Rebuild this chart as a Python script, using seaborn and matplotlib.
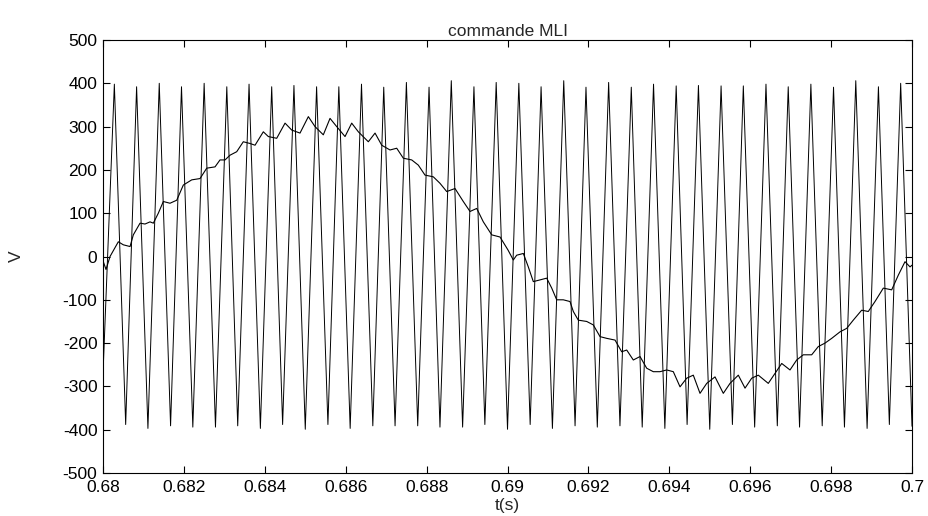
import numpy as np
import pandas as pd
import matplotlib
matplotlib.use("Agg")
import matplotlib.pyplot as plt
import seaborn as sns

# ── Data ───────────────────────────────────────────────────────────────────────
# triangular carrier: start sample, peaks and troughs
carrier_start_t = [0.68000]
carrier_start_v = [-270]
peak_t = [0.68028, 0.68083, 0.68139, 0.68194, 0.68250, 0.68306, 0.68361, 0.68417,
          0.68472, 0.68528, 0.68583, 0.68639, 0.68694, 0.68750, 0.68806, 0.68861,
          0.68917, 0.68972, 0.69028, 0.69083, 0.69139, 0.69194, 0.69250, 0.69306,
          0.69361, 0.69417, 0.69472, 0.69528, 0.69583, 0.69639, 0.69694, 0.69750,
          0.69806, 0.69861, 0.69917, 0.69972]
peak_v = [398, 392, 400, 392, 400, 392, 398, 392, 395, 392, 392, 398,
          391, 402, 391, 406, 392, 402, 400, 392, 406, 391, 402, 391,
          398, 394, 395, 394, 394, 398, 392, 398, 391, 406, 392, 400]
trough_t = [0.68056, 0.68111, 0.68167, 0.68222, 0.68278, 0.68333, 0.68389, 0.68444,
            0.68500, 0.68556, 0.68611, 0.68667, 0.68722, 0.68778, 0.68833, 0.68889,
            0.68944, 0.69000, 0.69056, 0.69111, 0.69167, 0.69222, 0.69278, 0.69333,
            0.69389, 0.69444, 0.69500, 0.69556, 0.69611, 0.69667, 0.69722, 0.69778,
            0.69833, 0.69889, 0.69944, 0.70000]
trough_v = [-388, -397, -391, -394, -394, -391, -397, -388, -399, -388, -397, -391,
            -391, -391, -394, -394, -388, -399, -388, -397, -391, -394, -391, -394,
            -397, -388, -399, -388, -394, -391, -394, -391, -394, -397, -388, -392]

# modulating (reference) signal
mli_t = [0.680000, 0.680074, 0.680173, 0.680378, 0.680502, 0.680668, 0.680749, 0.680915,
         0.681038, 0.681162, 0.681244, 0.681367, 0.681491, 0.681656, 0.681822, 0.681985,
         0.682193, 0.682398, 0.682564, 0.682769, 0.682892, 0.683016, 0.683140, 0.683305,
         0.683468, 0.683634, 0.683758, 0.683963, 0.684087, 0.684294, 0.684500, 0.684665,
         0.684870, 0.685076, 0.685241, 0.685446, 0.685612, 0.685777, 0.685983, 0.686148,
         0.686312, 0.686559, 0.686725, 0.686890, 0.687095, 0.687261, 0.687424, 0.687632,
         0.687795, 0.687960, 0.688166, 0.688331, 0.688497, 0.688702, 0.688907, 0.689073,
         0.689239, 0.689402, 0.689610, 0.689815, 0.690012, 0.690143, 0.690227, 0.690391,
         0.690514, 0.690638, 0.690804, 0.690969, 0.691093, 0.691216, 0.691379, 0.691545,
         0.691627, 0.691750, 0.691958, 0.692121, 0.692287, 0.692452, 0.692658, 0.692823,
         0.692947, 0.693110, 0.693276, 0.693441, 0.693604, 0.693770, 0.693936, 0.694099,
         0.694265, 0.694430, 0.694593, 0.694759, 0.694925, 0.695130, 0.695335, 0.695501,
         0.695706, 0.695872, 0.696037, 0.696200, 0.696447, 0.696613, 0.696779, 0.696984,
         0.697149, 0.697313, 0.697520, 0.697683, 0.697849, 0.698015, 0.698220, 0.698385,
         0.698548, 0.698756, 0.698919, 0.699085, 0.699291, 0.699498, 0.699662, 0.699827,
         0.699951, 0.700000]
mli_v = [-10, -30, 0, 34, 27, 23, 50, 77,
         75, 80, 77, 100, 127, 123, 130, 165,
         177, 180, 204, 207, 223, 223, 234, 242,
         265, 261, 257, 288, 277, 273, 308, 292,
         285, 323, 300, 281, 319, 300, 277, 308,
         288, 265, 285, 257, 246, 250, 227, 223,
         211, 188, 184, 169, 150, 157, 127, 104,
         111, 80, 50, 45, 15, -8, 3, 7,
         -24, -58, -54, -50, -73, -100, -100, -104,
         -127, -147, -150, -158, -185, -189, -193, -220,
         -216, -239, -231, -258, -266, -266, -262, -266,
         -301, -281, -274, -316, -293, -278, -316, -293,
         -274, -304, -281, -274, -293, -270, -247, -262,
         -239, -227, -227, -208, -200, -189, -174, -166,
         -147, -124, -127, -104, -73, -77, -43, -12,
         -24, -20]

x_ticks = [0.68, 0.682, 0.684, 0.686, 0.688, 0.69, 0.692, 0.694, 0.696, 0.698, 0.7]
x_tick_labels = ["0.68", "0.682", "0.684", "0.686", "0.688", "0.69",
                 "0.692", "0.694", "0.696", "0.698", "0.7"]
y_ticks = [-500, -400, -300, -200, -100, 0, 100, 200, 300, 400, 500]

# ── Style ──────────────────────────────────────────────────────────────────────
sns.set_style("ticks")
plt.rcParams["font.family"] = ["Liberation Sans", "DejaVu Sans"]
plt.rcParams["axes.unicode_minus"] = False
FS = 12.5

carrier = pd.DataFrame({
    "t": carrier_start_t + peak_t + trough_t,
    "v": carrier_start_v + peak_v + trough_v,
}).sort_values("t")
mli = pd.DataFrame({"t": mli_t, "v": mli_v})

fig = plt.figure(figsize=(9.29, 5.16), dpi=100)
ax = fig.add_axes([0.1109, 0.0833, 0.8708, 0.8392])

sns.lineplot(data=carrier, x="t", y="v", ax=ax, color="black", linewidth=0.7,
             estimator=None, sort=False)
sns.lineplot(data=mli, x="t", y="v", ax=ax, color="black", linewidth=0.8,
             estimator=None, sort=False)

ax.set_xlim(0.68, 0.7)
ax.set_ylim(-500, 500)
ax.set_xticks(x_ticks)
ax.set_xticklabels(x_tick_labels)
ax.set_yticks(y_ticks)
ax.tick_params(direction="in", length=5, width=0.8, top=True, right=True,
               labelsize=FS, colors="black")
ax.tick_params(axis="x", pad=5)
ax.tick_params(axis="y", pad=4)
for s in ax.spines.values():
    s.set_visible(True)
    s.set_color("black")
    s.set_linewidth(0.8)

ax.set_title("commande MLI", fontsize=FS, pad=3)
ax.set_xlabel("t(s)", fontsize=FS)
ax.set_ylabel("V", fontsize=FS)
ax.xaxis.set_label_coords(0.5, -0.058)
ax.yaxis.set_label_coords(-0.098, 0.5)

fig.savefig("out.png", dpi=100, facecolor="white")
